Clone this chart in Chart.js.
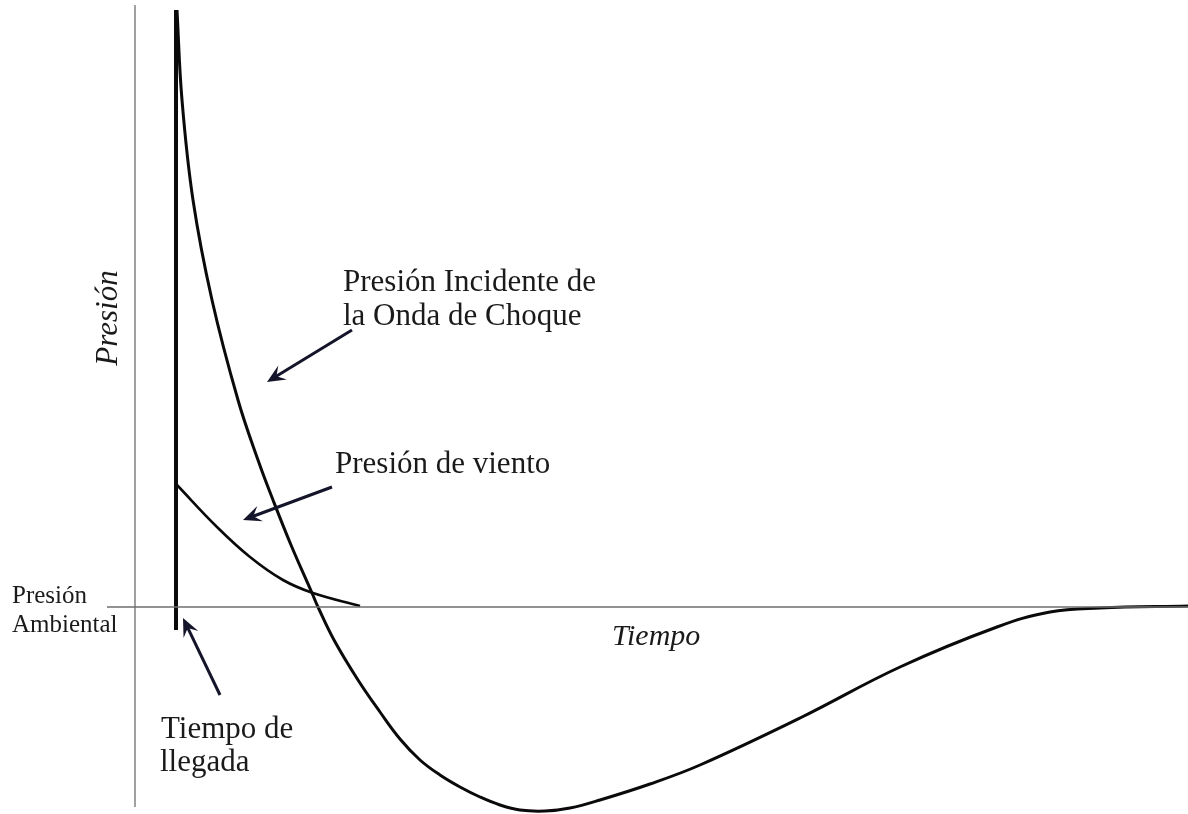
<!DOCTYPE html>
<html>
<head>
<meta charset="utf-8">
<script src="https://cdn.jsdelivr.net/npm/chart.js@4"></script>
<style>
  html, body { margin: 0; padding: 0; background: #fff; }
  #wrap { width: 1188px; height: 814px; }
</style>
</head>
<body>
<div id="wrap"><canvas id="blast-chart" width="1188" height="814"></canvas></div>
<script>
// time measured from the arrival of the wave, pressure relative to ambient
const incidentTime = [1, 6, 17, 36, 62, 82, 97, 115, 136, 142, 158, 182, 204, 224, 244, 264, 284, 304, 324, 344, 369, 394, 424, 474, 524, 624, 724, 821, 874, 924, 1012];
const incidentPressure = [597, 507, 407, 307, 207, 147, 107, 62, 14, 0, -33, -73, -105, -132, -153, -168, -180, -190, -198, -203, -204, -201, -193, -177, -158, -111, -60, -20, -5, -1, 1];

const windTime = [1, 41, 74, 107, 137, 184];
const windPressure = [122, 80, 50, 27, 14, 1];

const arrivalTime = [0, 0];
const arrivalPressure = [597, -23];

const pressureAxisTime = [-41, -41];
const pressureAxisPressure = [602, -200];
const ambientTime = [-69, 1012];
const ambientPressure = [0, 0];

function toPoints(xs, ys) {
    return xs.map((x, i) => ({ x: x, y: ys[i] }));
}

// text labels, anchored in data units
const labels = [
    { text: 'Presión Incidente de', t: 167, p: 316, size: 31 },
    { text: 'la Onda de Choque', t: 167, p: 282, size: 31 },
    { text: 'Presión de viento', t: 159, p: 134, size: 31 },
    { text: 'Presión', t: -164, p: 4, size: 25 },
    { text: 'Ambiental', t: -164, p: -25, size: 25 },
    { text: 'Tiempo de', t: -15, p: -131, size: 31 },
    { text: 'llegada', t: -16, p: -164, size: 31 },
    { text: 'Tiempo', t: 436, p: -38, size: 30, italic: true },
    { text: 'Presión', t: -59, p: 289, size: 31, italic: true, rotate: true }
];

// arrows: tail -> head
const arrows = [
    { from: [176, 277], to: [91, 225] },
    { from: [156, 120], to: [67, 87] },
    { from: [44, -88], to: [7, -11] }
];

const annotationPlugin = {
    id: 'annotations',
    afterDatasetsDraw(chart) {
        const c = chart.ctx;
        const xs = chart.scales.x;
        const ys = chart.scales.y;
        c.save();
        c.strokeStyle = '#14142a';
        c.fillStyle = '#14142a';

        arrows.forEach(a => {
            const x1 = xs.getPixelForValue(a.from[0]);
            const y1 = ys.getPixelForValue(a.from[1]);
            const x2 = xs.getPixelForValue(a.to[0]);
            const y2 = ys.getPixelForValue(a.to[1]);
            const ang = Math.atan2(y2 - y1, x2 - x1);
            const len = 20;
            c.lineWidth = 3;
            c.beginPath();
            c.moveTo(x1, y1);
            c.lineTo(x2 - Math.cos(ang) * 8, y2 - Math.sin(ang) * 8);
            c.stroke();
            c.beginPath();
            c.moveTo(x2, y2);
            c.lineTo(x2 - len * Math.cos(ang - 0.42), y2 - len * Math.sin(ang - 0.42));
            c.lineTo(x2 - 11 * Math.cos(ang), y2 - 11 * Math.sin(ang));
            c.lineTo(x2 - len * Math.cos(ang + 0.42), y2 - len * Math.sin(ang + 0.42));
            c.closePath();
            c.fill();
        });

        c.fillStyle = '#1a1a1a';
        labels.forEach(l => {
            const x = xs.getPixelForValue(l.t);
            const y = ys.getPixelForValue(l.p);
            c.font = (l.italic ? 'italic ' : '') + l.size + 'px "Liberation Serif", "Times New Roman", serif';
            c.textBaseline = 'alphabetic';
            if (l.rotate) {
                c.save();
                c.translate(x, y);
                c.rotate(-Math.PI / 2);
                c.textAlign = 'center';
                c.fillText(l.text, 0, 0);
                c.restore();
            } else {
                c.textAlign = 'left';
                c.fillText(l.text, x, y);
            }
        });
        c.restore();
    }
};

const ctx = document.getElementById('blast-chart').getContext('2d');
const blastChart = new Chart(ctx, {
    type: 'scatter',
    data: {
        datasets: [
            {
                label: 'Eje de presión',
                data: toPoints(pressureAxisTime, pressureAxisPressure),
                borderColor: '#6e6e6e',
                borderWidth: 1.3,
                showLine: true,
                pointRadius: 0
            },
            {
                label: 'Presión ambiental',
                data: toPoints(ambientTime, ambientPressure),
                borderColor: '#6e6e6e',
                borderWidth: 1.3,
                showLine: true,
                pointRadius: 0
            },
            {
                label: 'Tiempo de llegada',
                data: toPoints(arrivalTime, arrivalPressure),
                borderColor: '#0a0a0a',
                borderWidth: 4,
                showLine: true,
                pointRadius: 0
            },
            {
                label: 'Presión de viento',
                data: toPoints(windTime, windPressure),
                borderColor: '#0a0a0a',
                borderWidth: 2.6,
                showLine: true,
                pointRadius: 0,
                tension: 0.4
            },
            {
                label: 'Presión incidente',
                data: toPoints(incidentTime, incidentPressure),
                borderColor: '#0a0a0a',
                borderWidth: 3,
                showLine: true,
                pointRadius: 0,
                tension: 0.4
            }
        ]
    },
    options: {
        responsive: false,
        animation: false,
        layout: { padding: 0 },
        plugins: {
            legend: { display: false },
            tooltip: { enabled: false }
        },
        scales: {
            x: { type: 'linear', display: false, min: -176, max: 1012 },
            y: { type: 'linear', display: false, min: -207, max: 607 }
        }
    },
    plugins: [annotationPlugin]
});
</script>
</body>
</html>
